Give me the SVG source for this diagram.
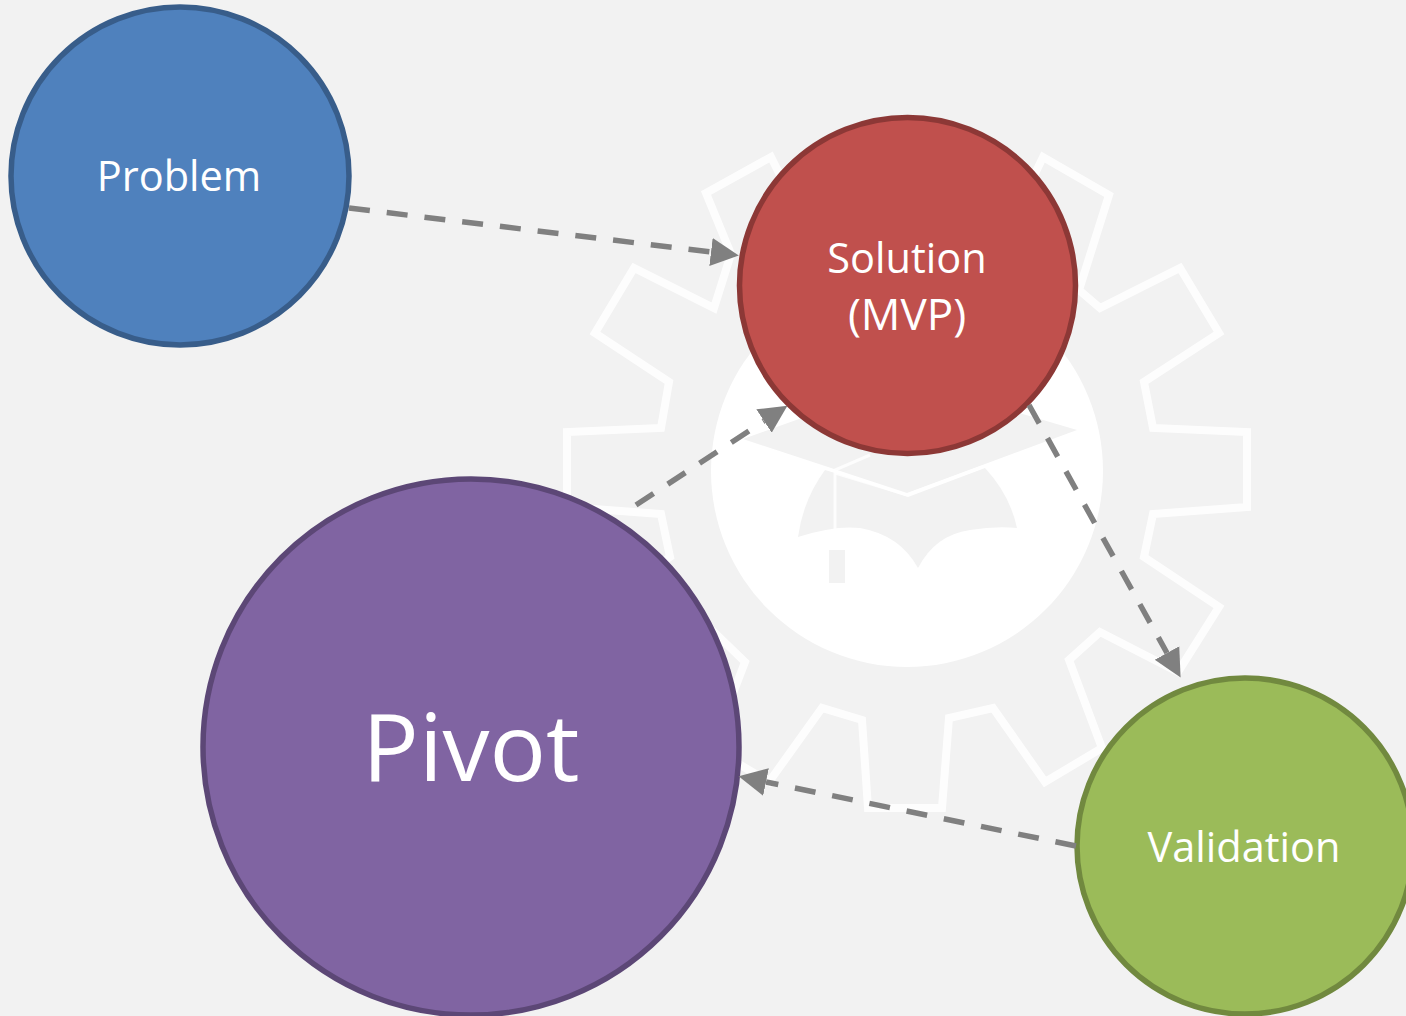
<svg xmlns="http://www.w3.org/2000/svg" width="1406" height="1016" viewBox="0 0 1406 1016">
<style>
.n{stroke-width:5.5}
.t{font-family:"Open Sans","Liberation Sans",sans-serif;fill:#fff;text-anchor:middle;font-size:41.5px}
.c{stroke:#808080;stroke-width:5.5;stroke-dasharray:21 17;fill:none;marker-end:url(#a)}
.bg{fill:#f2f2f2}
</style>
<defs><marker id="a" markerUnits="userSpaceOnUse" markerWidth="30" markerHeight="30" refX="0" refY="15" orient="auto"><path d="M0 1L28 15L0 29Z" fill="#808080"/></marker></defs>
<rect width="1406" height="1016" class="bg"/>
<g id="logo">
<circle cx="907" cy="471" r="196" fill="#fff"/>
<path d="M795 205L771 157L706 193L731 254L714 308L634 268L595 333L669 382L661 428L567 432V507L661 514L670 557L595 607L636 672L714 632L745 662L712 748L769 782L822 708L862 720L868 808L942 808L949 718L993 708L1045 782L1102 748L1069 660L1100 632L1178 672L1219 607L1144 557L1153 514L1247 507V432L1153 428L1144 382L1219 333L1180 268L1100 308L1079 290L1109 195L1043 157L1020 205" fill="none" stroke="#fff" stroke-opacity=".85" stroke-width="8"/>
<path class="bg" d="M743 439L908 380L1077 430L907 493Z"/>
<path class="bg" d="M825 470Q803 500 798 537Q835 525 860 528Q900 535 918 568Q935 535 970 530Q995 526 1017 528Q1010 495 985 468L908 497L835 473Z"/>
<path d="M835 473L907 495L985 466" fill="none" stroke="#fff" stroke-opacity=".8" stroke-width="3"/>
<path d="M870 455L835 470V550" fill="none" stroke="#fff" stroke-opacity=".8" stroke-width="3"/>
<rect class="bg" x="829" y="550" width="16" height="33"/>
</g>
<g id="problem"><circle class="n" cx="180" cy="176" r="169" fill="#4f81bd" stroke="#385d8a"/><text class="t" x="179" y="191">Problem</text></g>
<g id="solution"><circle class="n" cx="907.5" cy="285.5" r="168" fill="#c0504d" stroke="#8c3836"/><text class="t" x="907" y="273">Solution</text><text class="t" x="907" y="330" style="font-size:44px">(MVP)</text></g>
<g id="pivot"><circle class="n" cx="471" cy="747" r="268" fill="#8064a2" stroke="#5c4776"/><text class="t" x="471" y="781" style="font-size:94px">Pivot</text></g>
<g id="validation"><circle class="n" cx="1245" cy="846" r="168" fill="#9bbb59" stroke="#71893f"/><text class="t" x="1244" y="862">Validation</text></g>
<g id="connectors">
<path class="c" d="M349 208L711 252"/>
<path class="c" d="M636 505L764 421"/>
<path class="c" d="M1029 405L1167 653"/>
<path class="c" d="M1076 846L766 782"/>
</g>
</svg>
